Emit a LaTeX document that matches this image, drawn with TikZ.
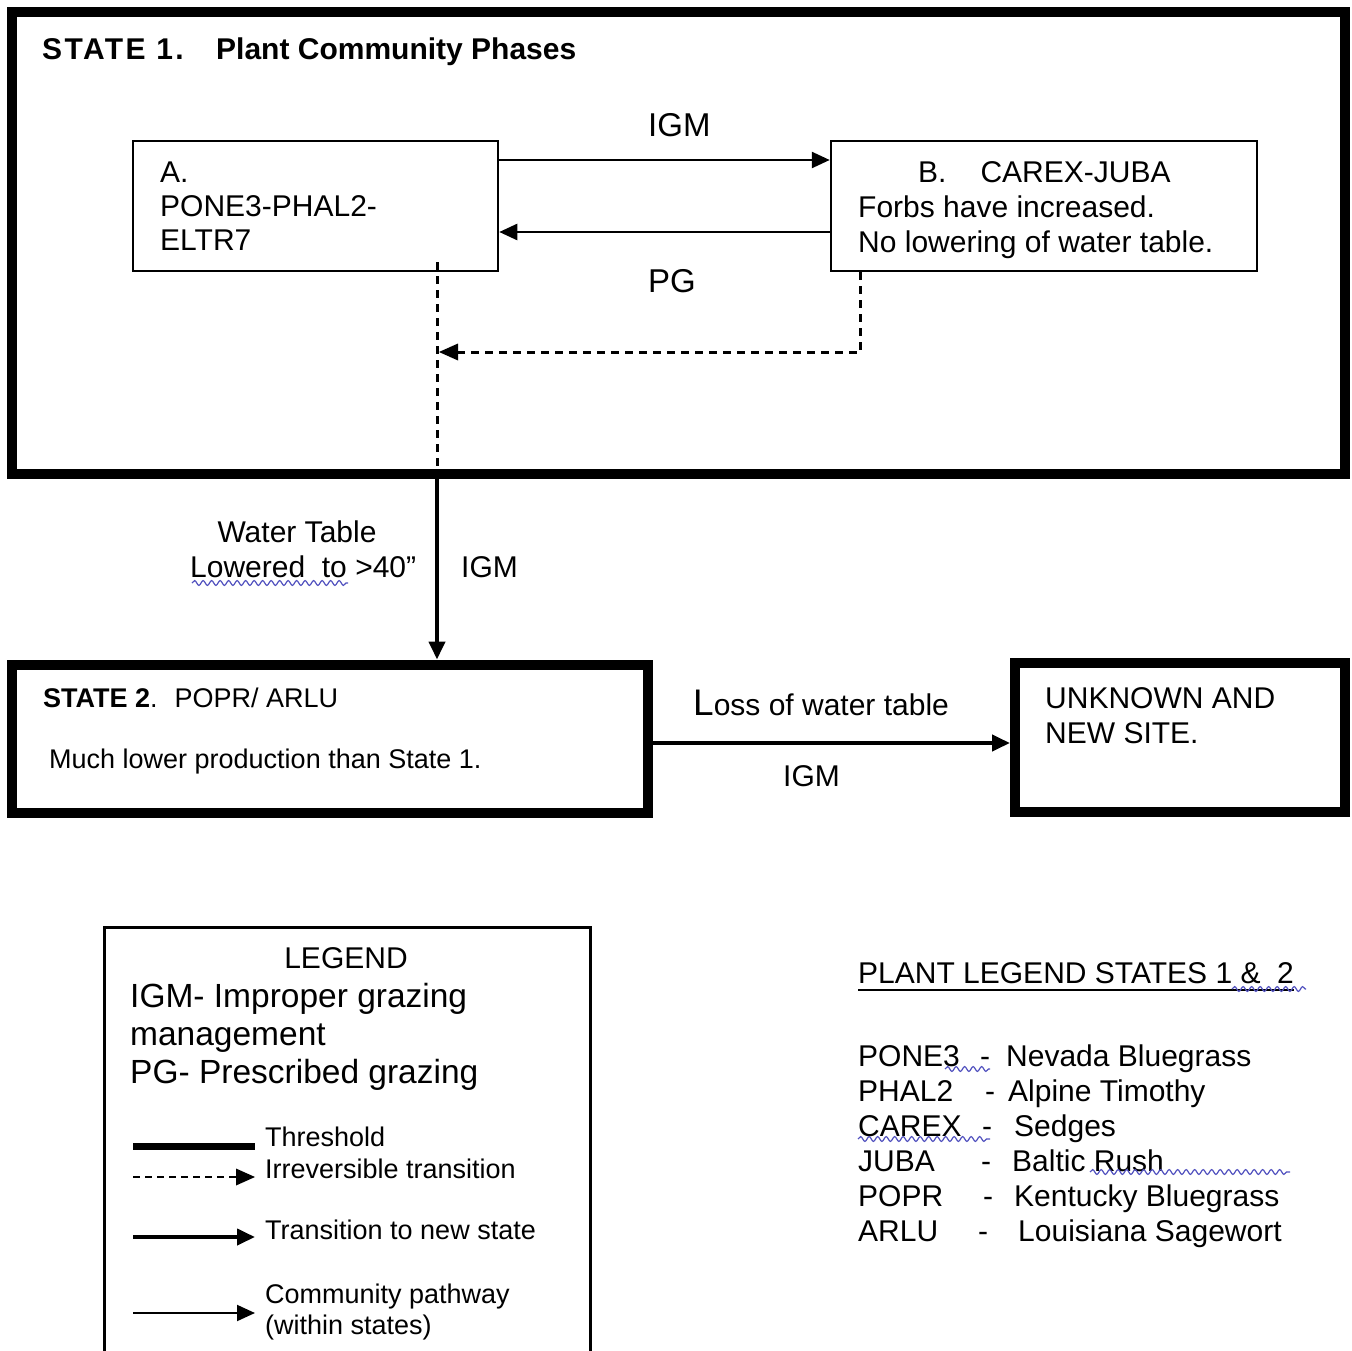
\documentclass[tikz,border=0pt]{standalone}
\usepackage{fontspec}
\setmainfont{Liberation Sans}
\usetikzlibrary{arrows.meta,decorations.pathmorphing}
\definecolor{squig}{RGB}{80,80,190}
\begin{document}
\begin{tikzpicture}[x=1pt,y=-1pt,
  statebox/.style={draw, line width=10pt, rectangle, inner sep=0pt},
  phasebox/.style={draw, line width=2.5pt, rectangle, inner sep=0pt},
  lbl/.style={inner sep=0pt, anchor=base west, font=\fontsize{30}{34.5}\selectfont},
  lblbig/.style={lbl, font=\fontsize{33}{38}\selectfont},
  lblsmall/.style={lbl, font=\fontsize{27}{31}\selectfont},
  lbldef/.style={lbl, font=\fontsize{33.5}{38}\selectfont},
  tip/.style={-{Triangle[length=18pt,width=16pt]}},
  pathway/.style={line width=2.5pt, tip},
  transition/.style={line width=4pt, tip},
  irrev/.style={line width=3pt, dash pattern=on 8pt off 6pt},
  wavy/.style={draw=squig, line width=1.2pt, decorate, decoration={snake, amplitude=2.4pt, segment length=8.5pt}}
]
\useasboundingbox (0,0) rectangle (1352,1351);

% ---------- boxes ----------
\node[statebox, minimum width=1333pt, minimum height=462pt] (S1) at (678.5,243) {};
\node[phasebox, minimum width=365pt, minimum height=130pt] (A) at (315.5,206) {};
\node[phasebox, minimum width=426pt, minimum height=130pt] (B) at (1044,206) {};
\node[statebox, minimum width=636pt, minimum height=148.5pt] (S2) at (330,738.75) {};
\node[statebox, minimum width=330pt, minimum height=149pt] (U) at (1180,737.5) {};
\node[phasebox, minimum width=486pt, minimum height=500pt, anchor=north west] (LG) at (103,926) {};

% ---------- texts in state 1 ----------
\node[lbl, font=\fontsize{30}{34.5}\selectfont\bfseries] (t1) at (42,60) {\makebox[174pt][l]{\addfontfeature{LetterSpace=8}STATE 1.}Plant Community Phases};
\node[lbl] (a1) at (160,183) {A.};
\node[lbl] (a2) at (160,217) {PONE3-PHAL2-};
\node[lbl] (a3) at (160,251) {ELTR7};
\node[lbl] (b1) at (918,183) {B.\hspace{34pt}CAREX-JUBA};
\node[lbl] (b2) at (858,218) {Forbs have increased.};
\node[lbl] (b3) at (858,252) {No lowering of water table.};
\node[lblbig] (igm1) at (648,137) {IGM};
\node[lblbig] (pg1) at (648,292) {PG};

% ---------- connectors in state 1 ----------
\draw[pathway] ([yshift=46pt]A.east) -- ([yshift=46pt]B.west);
\draw[pathway] ([yshift=-26pt]B.west) -- ([yshift=-26pt]A.east);
\coordinate (dtip) at (439,352);
\coordinate (dtop) at (437,262);
\coordinate (dbot) at (437,470);
\draw[irrev] ([xshift=31pt]B.south west) |- ([xshift=18pt]dtip);
\fill (dtip) -- ++(19,-8.5) -- ++(0,17) -- cycle;
\draw[irrev] (dtop) -- (dbot);

% ---------- threshold to state 2 ----------
\coordinate (vx) at (437,0);
\draw[transition] (S1.south -| vx) -- (S2.north -| vx);
\node[lbl, anchor=base] (w1) at (297,542) {Water Table};
\node[lbl] (w2) at (190,577) {Lowered\ \ to >40”};
\node[lbl] (igm2) at (461,577) {IGM};
\draw[wavy] (192,583) -- (348,583);

% ---------- state 2 ----------
\node[lblsmall] (s2a) at (43,707) {\textbf{STATE 2}.\hspace{17pt}POPR/ ARLU};
\node[lblsmall] (s2b) at (49,768) {Much lower production than State 1.};

\coordinate (hy) at (0,743);
\draw[transition] (S2.east |- hy) -- (U.west |- hy);
\node[lbl] (loss) at (693,715) {{\fontsize{37}{40}\selectfont L}oss of water table};
\node[lbl] (igm3) at (783,786) {IGM};

\node[lbl] (u1) at (1045,708) {UNKNOWN AND};
\node[lbl] (u2) at (1045,743) {NEW SITE.};

% ---------- legend ----------
\node[lbl, anchor=base] (lg0) at (346,968) {LEGEND};
\node[lbldef] (lg1) at (130,1007) {IGM- Improper grazing};
\node[lbldef] (lg2) at (130,1045) {management};
\node[lbldef] (lg3) at (130,1083) {PG- Prescribed grazing};

\node[lblsmall] (k1) at (265,1146) {Threshold};
\node[lblsmall] (k2) at (265,1178) {Irreversible transition};
\node[lblsmall] (k3) at (265,1239) {Transition to new state};
\node[lblsmall] (k4) at (265,1303) {Community pathway};
\node[lblsmall] (k5) at (265,1334) {(within states)};

\coordinate (l1a) at (133,1146); \coordinate (l1b) at (255,1146);
\coordinate (l2a) at (133,1177); \coordinate (l2b) at (255,1177);
\coordinate (l3a) at (133,1237); \coordinate (l3b) at (255,1237);
\coordinate (l4a) at (133,1313); \coordinate (l4b) at (255,1313);
\draw[line width=7pt] (l1a) -- (l1b);
\draw[line width=2.5pt, dash pattern=on 7pt off 5pt] (l2a) -- ([xshift=-18pt]l2b);
\fill (l2b) -- ++(-19,-8.5) -- ++(0,17) -- cycle;
\draw[transition] (l3a) -- (l3b);
\draw[pathway, line width=2pt] (l4a) -- (l4b);

% ---------- plant legend ----------
\node[lbl] (ph) at (858,983) {PLANT LEGEND STATES 1 \&\ \ 2};
\draw[line width=1.5pt] ([yshift=-7pt]ph.base west) -- ([yshift=-7pt]ph.base east);
\draw[wavy] (1232,989) -- (1306,989);

\foreach \yy/\cc/\dx/\nn/\nx [count=\i] in {
  1066/PONE3/980/Nevada Bluegrass/1006,
  1101/PHAL2/985/Alpine Timothy/1008,
  1136/CAREX/982/Sedges/1014,
  1171/JUBA/981/Baltic Rush/1012,
  1206/POPR/983/Kentucky Bluegrass/1014,
  1241/ARLU/978/Louisiana Sagewort/1018}{
  \node[lbl] (pc\i) at (858,\yy) {\cc};
  \node[lbl] (pd\i) at (\dx,\yy) {-};
  \node[lbl] (pn\i) at (\nx,\yy) {\nn};
}
\draw[wavy] (945,1069) -- (990,1069);
\draw[wavy] (858,1139) -- (990,1139);
\draw[wavy] (1090,1172) -- (1290,1172);
\end{tikzpicture}
\end{document}
